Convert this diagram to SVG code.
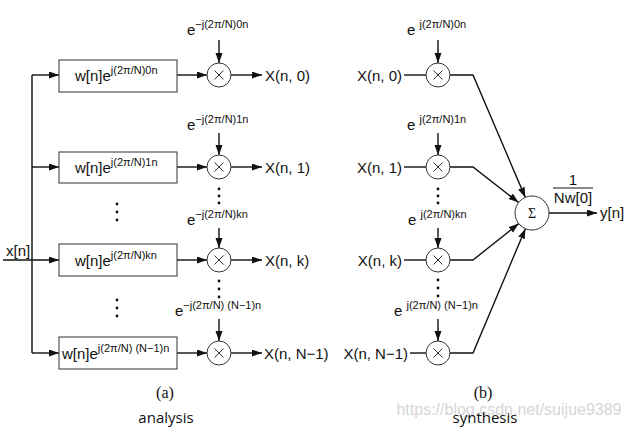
<svg xmlns="http://www.w3.org/2000/svg" width="630" height="431" viewBox="0 0 630 431">
<defs>
<marker id="ah" markerWidth="11" markerHeight="8" refX="10" refY="3.5" orient="auto" markerUnits="userSpaceOnUse">
<path d="M0,0 L10,3.5 L0,7 z" fill="#111"/>
</marker>
<style>
.ln{stroke:#111;stroke-width:1.4;fill:none}
.ar{stroke:#111;stroke-width:1.4;fill:none;marker-end:url(#ah)}
.bx{fill:#fff;stroke:#333;stroke-width:1}
.cc{fill:#fff;stroke:#333;stroke-width:1}
.t{font-family:"Liberation Sans",Arial,sans-serif;font-size:15px;fill:#111}
.s{font-size:11px}
.dot{fill:#111}
.cap{font-family:"Liberation Serif","Times New Roman",serif;font-size:16px;fill:#111;text-anchor:middle}
.lbl{font-family:"Open Sans","Noto Sans",sans-serif;font-size:15px;fill:#111;text-anchor:middle}
</style>
<g id="mul"><circle class="cc" r="12"/><path d="M-4.5,-4.5 L4.5,4.5 M4.5,-4.5 L-4.5,4.5" stroke="#333" stroke-width="1"/></g>
</defs>

<g id="connectors">
<path class="ln" d="M32,75 L32,353"/>
<path class="ar" d="M32,75 L59,75"/>
<path class="ar" d="M32,167 L59,167"/>
<path class="ar" d="M3,260 L59,260"/>
<path class="ar" d="M32,353 L59,353"/>
<path class="ar" d="M177,75 L207,75"/>
<path class="ar" d="M177,167 L207,167"/>
<path class="ar" d="M177,260 L207,260"/>
<path class="ar" d="M177,353 L207,353"/>
<path class="ar" d="M231,75 L262,75"/>
<path class="ar" d="M231,167 L262,167"/>
<path class="ar" d="M231,260 L262,260"/>
<path class="ar" d="M231,353 L262,353"/>
<path class="ar" d="M219,40 L219,63"/>
<path class="ar" d="M219,133 L219,155"/>
<path class="ar" d="M219,228 L219,248"/>
<path class="ar" d="M219,319 L219,341"/>
<path class="ln" d="M404,75 L426,75"/>
<path class="ln" d="M404,167 L426,167"/>
<path class="ln" d="M404,260 L426,260"/>
<path class="ln" d="M410,353 L426,353"/>
<path class="ar" d="M438,40 L438,63"/>
<path class="ar" d="M438,133 L438,155"/>
<path class="ar" d="M438,228 L438,248"/>
<path class="ar" d="M438,319 L438,341"/>
<path class="ar" d="M450,75 L473,75 L525.3,197.4"/>
<path class="ar" d="M450,167 L473,167 L518.6,202.5"/>
<path class="ar" d="M450,260 L473,260 L518.7,223.6"/>
<path class="ar" d="M450,353 L473,353 L525.4,228.7"/>
<path class="ar" d="M549,213 L597,213"/>
</g>

<g id="input-label"><text class="t" x="6" y="256">x[n]</text></g>

<g id="box0"><rect class="bx" x="59" y="60" width="118" height="32"/><text class="t" x="75" y="81">w[n]e<tspan class="s" dy="-7">j(2π/N)0n</tspan></text></g>
<g id="box1"><rect class="bx" x="59" y="152" width="118" height="31"/><text class="t" x="75" y="173">w[n]e<tspan class="s" dy="-7">j(2π/N)1n</tspan></text></g>
<g id="box2"><rect class="bx" x="59" y="244" width="118" height="32"/><text class="t" x="75" y="266">w[n]e<tspan class="s" dy="-7">j(2π/N)kn</tspan></text></g>
<g id="box3"><rect class="bx" x="59" y="337" width="118" height="32"/><text class="t" x="62" y="359">w[n]e<tspan class="s" dy="-7">j(2π/N) (N−1)n</tspan></text></g>

<g id="amul0"><use href="#mul" x="219" y="75"/><text class="t" x="187" y="35">e<tspan class="s" dy="-7">−j(2π/N)0n</tspan></text></g>
<g id="amul1"><use href="#mul" x="219" y="167"/><text class="t" x="187" y="130">e<tspan class="s" dy="-7">−j(2π/N)1n</tspan></text></g>
<g id="amul2"><use href="#mul" x="219" y="260"/><text class="t" x="187" y="225">e<tspan class="s" dy="-7">−j(2π/N)kn</tspan></text></g>
<g id="amul3"><use href="#mul" x="219" y="353"/><text class="t" x="175" y="316">e<tspan class="s" dy="-7">−j(2π/N) (N−1)n</tspan></text></g>

<g id="aout">
<text class="t" x="265" y="81">X(n, 0)</text>
<text class="t" x="265" y="173">X(n, 1)</text>
<text class="t" x="265" y="266">X(n, k)</text>
<text class="t" x="264" y="359">X(n, N−1)</text>
</g>

<g id="dots">
<circle class="dot" cx="117" cy="204" r="1.4"/><circle class="dot" cx="117" cy="212" r="1.4"/><circle class="dot" cx="117" cy="220" r="1.4"/>
<circle class="dot" cx="117" cy="300" r="1.4"/><circle class="dot" cx="117" cy="308" r="1.4"/><circle class="dot" cx="117" cy="316" r="1.4"/>
<circle class="dot" cx="219" cy="189" r="1.4"/><circle class="dot" cx="219" cy="196" r="1.4"/><circle class="dot" cx="219" cy="203" r="1.4"/>
<circle class="dot" cx="219" cy="281" r="1.4"/><circle class="dot" cx="219" cy="289" r="1.4"/><circle class="dot" cx="219" cy="297" r="1.4"/>
<circle class="dot" cx="438" cy="189" r="1.4"/><circle class="dot" cx="438" cy="196" r="1.4"/><circle class="dot" cx="438" cy="203" r="1.4"/>
<circle class="dot" cx="438" cy="280" r="1.4"/><circle class="dot" cx="438" cy="288" r="1.4"/><circle class="dot" cx="438" cy="296" r="1.4"/>
</g>

<g id="sin">
<text class="t" x="402" y="81" text-anchor="end">X(n, 0)</text>
<text class="t" x="402" y="173" text-anchor="end">X(n, 1)</text>
<text class="t" x="402" y="266" text-anchor="end">X(n, k)</text>
<text class="t" x="408" y="359" text-anchor="end">X(n, N−1)</text>
</g>

<g id="smul0"><use href="#mul" x="438" y="75"/><text class="t" x="407" y="35">e <tspan class="s" dy="-7">j(2π/N)0n</tspan></text></g>
<g id="smul1"><use href="#mul" x="438" y="167"/><text class="t" x="407" y="130">e <tspan class="s" dy="-7">j(2π/N)1n</tspan></text></g>
<g id="smul2"><use href="#mul" x="438" y="260"/><text class="t" x="408" y="225">e <tspan class="s" dy="-7">j(2π/N)kn</tspan></text></g>
<g id="smul3"><use href="#mul" x="438" y="353"/><text class="t" x="394" y="316">e <tspan class="s" dy="-7">j(2π/N) (N−1)n</tspan></text></g>

<g id="sum"><circle class="cc" cx="532" cy="213" r="17"/><text x="532" y="218" text-anchor="middle" font-family="'Liberation Serif',serif" font-size="14" fill="#111">Σ</text></g>

<g id="gain">
<text class="t" x="573" y="185" text-anchor="middle" font-size="13">1</text>
<path d="M553,188 L593,188" stroke="#111" stroke-width="1"/>
<text class="t" x="573" y="203" text-anchor="middle">Nw[0]</text>
</g>
<g id="yout"><text class="t" x="600" y="218">y[n]</text></g>

<g id="captions">
<text class="cap" x="165" y="398">(a)</text>
<text class="cap" x="483" y="398">(b)</text>
<text x="509" y="415" text-anchor="middle" font-family="'Liberation Sans',sans-serif" font-size="16" fill="#d6d6d6">https://blog.csdn.net/suijue9389</text>
<text class="lbl" x="166" y="423">analysis</text>
<text class="lbl" x="485" y="423">synthesis</text>
</g>
</svg>
